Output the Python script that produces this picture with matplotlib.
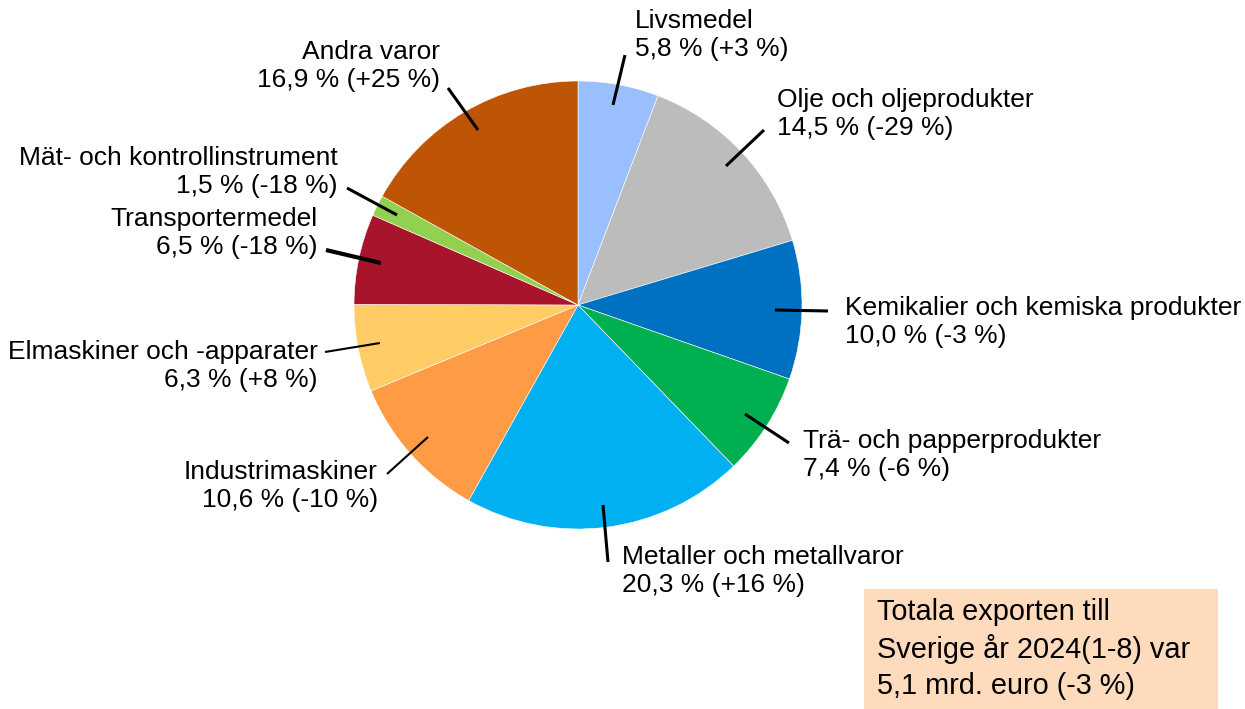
import matplotlib
matplotlib.use("Agg")
import matplotlib.pyplot as plt
from matplotlib.patches import Rectangle

categories = ["Livsmedel", "Olje och oljeprodukter", "Kemikalier och kemiska produkter",
              "Trä- och papperprodukter", "Metaller och metallvaror", "Industrimaskiner",
              "Elmaskiner och -apparater", "Transportermedel", "Mät- och kontrollinstrument",
              "Andra varor"]
shares = [5.8, 14.5, 10.0, 7.4, 20.3, 10.6, 6.3, 6.5, 1.5, 16.9]
changes = ["+3 %", "-29 %", "-3 %", "-6 %", "+16 %", "-10 %", "+8 %", "-18 %", "-18 %", "+25 %"]
colors = ["#99BFFF", "#BBBCBB", "#0070C0", "#00B050", "#00B0F0", "#FF9A45",
          "#FFCC66", "#A8142C", "#92D050", "#BE5504"]
total_text = "Totala exporten till\nSverige år 2024(1-8) var\n5,1 mrd. euro (-3 %)"

plt.rcParams["font.family"] = ["Liberation Sans", "DejaVu Sans"]

W, H = 1245, 709
CX, CY, R = 578, 305, 224

def P(px, py):
    return ((px - CX) / R, (CY - py) / R)

fig = plt.figure(figsize=(W / 100, H / 100), dpi=100)
ax = fig.add_axes([0, 0, 1, 1])

ax.pie(shares, colors=colors, startangle=90, counterclock=False, radius=1.0,
       wedgeprops=dict(edgecolor="white", linewidth=0.4))

ax.set_xlim(P(0, 0)[0], P(W, 0)[0])
ax.set_ylim(P(0, H)[1], P(0, 0)[1])
ax.set_aspect("equal")
ax.axis("off")

fs = 19

# label layout: (line start, line end, text anchor, ha, line width)
layout = [
    ((613, 105), (625, 55), (635, 35), "left", 2.2),
    ((726, 166), (764, 130), (777, 114), "left", 2.2),
    ((775, 310), (828, 311), (845, 322), "left", 2.2),
    ((745, 414), (789, 443), (803, 455), "left", 2.2),
    ((603, 505), (608, 562), (622, 571), "left", 2.2),
    ((428, 437), (387, 474), (378, 486), "right", 1.5),
    ((380, 343), (325, 352), (318, 366), "right", 1.5),
    ((381, 263), (326, 250), (318, 233), "right", 3.0),
    ((397, 215), (347, 188), (338, 172), "right", 2.2),
    ((478, 130), (448, 88), (440, 66), "right", 2.2),
]

for cat, s, ch, (p0, p1, tp, ha, lw) in zip(categories, shares, changes, layout):
    x0, y0 = P(*p0)
    x1, y1 = P(*p1)
    ax.plot([x0, x1], [y0, y1], color="black", lw=lw, solid_capstyle="butt")
    tx, ty = P(*tp)
    label = f"{cat}\n{s:.1f}".replace(".", ",") + f" % ({ch})"
    ax.text(tx, ty, label, ha=ha, va="center", multialignment=ha, fontsize=fs,
            linespacing=1.17, color="black")

bx0, by0 = P(864, 709)
bx1, by1 = P(1218, 589)
ax.add_patch(Rectangle((bx0, by0), bx1 - bx0, by1 - by0, facecolor="#FFDBBD",
                       edgecolor="none"))
tx, ty = P(877, 649)
ax.text(tx, ty, total_text, ha="left", va="center", fontsize=20.8, linespacing=1.36,
        color="black")

fig.savefig("out.png", dpi=100)
